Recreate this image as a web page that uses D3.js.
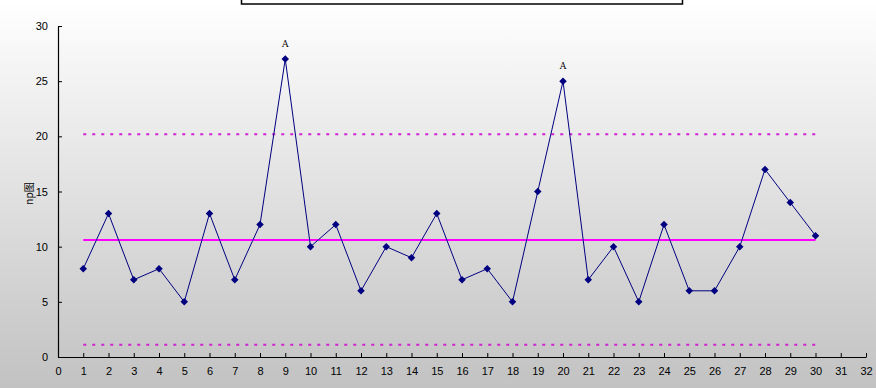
<!DOCTYPE html>
<html>
<head>
<meta charset="utf-8">
<script src="https://cdn.jsdelivr.net/npm/d3@7"></script>
<style>
  html, body { margin: 0; padding: 0; overflow: hidden; }
  #chart svg { display: block; }
</style>
</head>
<body>
<div id="chart"></div>
<script>
// sample numbers and np counts
const samples = d3.range(1, 31);
const npValues = [8, 13, 7, 8, 5, 13, 7, 12, 27, 10, 12, 6, 10, 9, 13, 7, 8, 5, 15, 25, 7, 10, 5, 12, 6, 6, 10, 17, 14, 11];
const flagged = [9, 20];            // points marked "A"
const centerLine = 10.6;
const upperLimit = 20.2;
const lowerLimit = 1.1;
const xTicks = d3.range(0, 33);
const yTicks = [0, 5, 10, 15, 20, 25, 30];

const width = 876;
const height = 388;
const margin = ({top: 26, right: 10, bottom: 31, left: 58});

const svg = d3.create('svg')
  .attr('width', width)
  .attr('height', height);

// background gradient
const grad = svg.append('defs').append('linearGradient')
  .attr('id', 'bg')
  .attr('x1', 0).attr('y1', 0).attr('x2', 0).attr('y2', 1);
grad.append('stop').attr('offset', '0%').attr('stop-color', '#ffffff');
grad.append('stop').attr('offset', '100%').attr('stop-color', '#c2c2c2');

svg.append('rect')
  .attr('width', width)
  .attr('height', height)
  .attr('fill', 'url(#bg)');

// title box (cut off at the top)
svg.append('rect')
  .attr('x', 241.5)
  .attr('y', -20)
  .attr('width', 441)
  .attr('height', 24)
  .attr('fill', '#ffffff')
  .attr('stroke', '#000')
  .attr('stroke-width', 1.5);

const xScale = d3.scaleLinear()
  .domain([0, 32])
  .range([margin.left, width - margin.right]);

const yScale = d3.scaleLinear()
  .domain([0, 30])
  .range([height - margin.bottom, margin.top]);

// control lines
const limits = svg.append('g')
  .attr('stroke', '#ff00ff')
  .attr('stroke-width', 2);

limits.append('line')
  .attr('x1', xScale(1)).attr('x2', xScale(30))
  .attr('y1', yScale(centerLine)).attr('y2', yScale(centerLine));

[upperLimit, lowerLimit].forEach(v => {
  limits.append('line')
    .attr('x1', xScale(1)).attr('x2', xScale(30))
    .attr('y1', yScale(v)).attr('y2', yScale(v))
    .attr('stroke', '#d020d0')
    .attr('stroke-dasharray', '3,6');
});

// x axis
svg.append('g')
  .attr('transform', `translate(0, ${yScale(0)})`)
  .call(d3.axisBottom(xScale).tickValues(xTicks).tickSizeInner(-4).tickSizeOuter(0).tickPadding(10))
  .call(g => g.select('.domain').attr('stroke-width', 1.2))
  .call(g => g.selectAll('text').attr('font-family', 'Liberation Sans, Arial, sans-serif').attr('font-size', 11).attr('fill', '#000'));

// y axis
svg.append('g')
  .attr('transform', `translate(${margin.left}, 0)`)
  .call(d3.axisLeft(yScale).tickValues(yTicks).tickSizeInner(-4).tickSizeOuter(0).tickPadding(10))
  .call(g => g.select('.domain').attr('stroke-width', 1.2))
  .call(g => g.selectAll('text').attr('font-family', 'Liberation Sans, Arial, sans-serif').attr('font-size', 11).attr('fill', '#000'));

// y axis title
svg.append('text')
  .attr('transform', `translate(33, ${yScale(15) + 2}) rotate(-90)`)
  .attr('text-anchor', 'middle')
  .attr('font-family', 'Noto Sans CJK SC, sans-serif')
  .attr('font-size', 10)
  .text('np图');

// series line
const line = d3.line()
  .x((d, i) => xScale(samples[i]))
  .y(d => yScale(d));

svg.append('path')
  .datum(npValues)
  .attr('fill', 'none')
  .attr('stroke', '#000080')
  .attr('stroke-width', 1)
  .attr('d', line);

// diamond markers
const diamond = d3.symbol().type(d3.symbolDiamond2).size(36);
svg.append('g')
  .selectAll('path')
  .data(npValues)
  .join('path')
  .attr('transform', (d, i) => `translate(${xScale(samples[i])}, ${yScale(d)})`)
  .attr('fill', '#000080')
  .attr('d', diamond());

// "A" flags above out-of-control points
svg.append('g')
  .selectAll('text')
  .data(flagged)
  .join('text')
  .attr('x', d => xScale(d))
  .attr('y', d => yScale(npValues[d - 1]) - 12)
  .attr('text-anchor', 'middle')
  .attr('font-family', 'DejaVu Serif, serif')
  .attr('font-size', 9)
  .text('A');

document.getElementById('chart').appendChild(svg.node());
</script>
</body>
</html>
